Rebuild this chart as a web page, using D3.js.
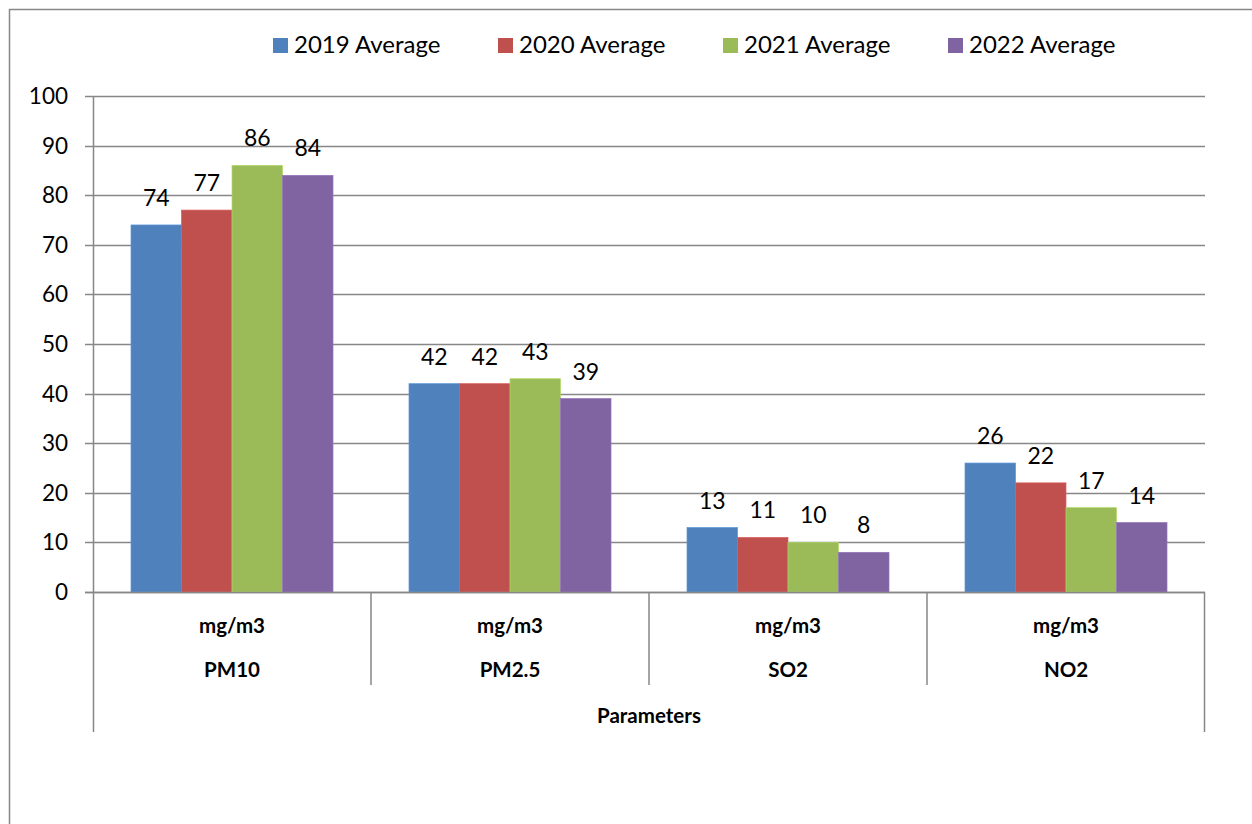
<!DOCTYPE html>
<html><head><meta charset="utf-8">
<script src="https://cdn.jsdelivr.net/npm/d3@7"></script>
<style>body{margin:0;background:#fff}svg{display:block}text{font-family:Lato,"Open Sans",sans-serif}</style>
</head><body>
<svg id="c" width="1252" height="824"></svg>
<script>
const categories = ["PM10", "PM2.5", "SO2", "NO2"];
const unitLabels = ["mg/m3", "mg/m3", "mg/m3", "mg/m3"];
const seriesNames = ["2019 Average", "2020 Average", "2021 Average", "2022 Average"];
const v2019 = [74, 42, 13, 26];
const v2020 = [77, 42, 11, 22];
const v2021 = [86, 43, 10, 17];
const v2022 = [84, 39, 8, 14];
const yTicks = [0, 10, 20, 30, 40, 50, 60, 70, 80, 90, 100];
const axisTitle = "Parameters";
const colors = ["#4F81BD", "#C0504D", "#9BBB59", "#8064A2"];
const seriesValues = [v2019, v2020, v2021, v2022];

const svg = d3.select("#c");
const L = 93, R = 1205, T = 96, B = 592;
const grid = "#878787";

// outer border
svg.append("path").attr("d", "M9.5,830V9.5H1260").attr("fill", "none").attr("stroke", grid).attr("stroke-width", 1.5);

const y = d3.scaleLinear().domain([0, 100]).range([B, T]);
const x0 = d3.scaleBand().domain(categories).range([L, R]).padding(0);
const x1 = d3.scaleBand().domain(seriesNames).range([38, x0.bandwidth() - 38]).padding(0);

// gridlines + ticks
svg.append("g").selectAll("line").data(yTicks).join("line")
  .attr("x1", L - 8).attr("x2", R).attr("y1", d => Math.round(y(d)) + 0.5).attr("y2", d => Math.round(y(d)) + 0.5)
  .attr("stroke", grid).attr("stroke-width", 1.5);
svg.append("g").selectAll("text").data(yTicks).join("text")
  .attr("x", 68).attr("y", d => y(d) + 8).attr("text-anchor", "end")
  .attr("font-size", 22.5).attr("fill", "#000").text(d => d);

// bars
const g = svg.append("g");
categories.forEach((c, ci) => {
  seriesNames.forEach((s, si) => {
    const v = seriesValues[si][ci];
    const bx = x0(c) + x1(s);
    g.append("rect").attr("x", bx).attr("y", y(v)).attr("width", x1.bandwidth()).attr("height", B - y(v))
      .attr("fill", colors[si]).attr("stroke", d3.color(colors[si]).brighter(0.4)).attr("stroke-width", 0.7);
    g.append("text").attr("x", bx + x1.bandwidth() / 2).attr("y", y(v) - 19)
      .attr("text-anchor", "middle").attr("font-size", 23).attr("fill", "#000").text(v);
  });
});

// axes lines
svg.append("line").attr("x1", L + 0.5).attr("x2", L + 0.5).attr("y1", T).attr("y2", 732).attr("stroke", grid).attr("stroke-width", 1.5);
svg.append("line").attr("x1", R - 0.5).attr("x2", R - 0.5).attr("y1", B).attr("y2", 732).attr("stroke", grid).attr("stroke-width", 1.5);
svg.append("line").attr("x1", L - 8).attr("x2", R).attr("y1", B + 0.5).attr("y2", B + 0.5).attr("stroke", grid).attr("stroke-width", 1.5);
categories.slice(1).forEach(c => {
  svg.append("line").attr("x1", x0(c)).attr("x2", x0(c)).attr("y1", B).attr("y2", 685).attr("stroke", grid).attr("stroke-width", 1.5);
});

// category labels
categories.forEach((c, i) => {
  const cx = x0(c) + x0.bandwidth() / 2;
  svg.append("text").attr("x", cx).attr("y", 633).attr("text-anchor", "middle").attr("font-size", 20.5).attr("font-weight", "bold").text(unitLabels[i]);
  svg.append("text").attr("x", cx).attr("y", 677).attr("text-anchor", "middle").attr("font-size", 20.5).attr("font-weight", "bold").text(c);
});
svg.append("text").attr("x", (L + R) / 2).attr("y", 723).attr("text-anchor", "middle").attr("font-size", 20.5).attr("font-weight", "bold").text(axisTitle);

// legend
const legX = [273, 498, 723, 948];
seriesNames.forEach((s, i) => {
  svg.append("rect").attr("x", legX[i]).attr("y", 38).attr("width", 15).attr("height", 15).attr("fill", colors[i]);
  svg.append("text").attr("x", legX[i] + 21).attr("y", 53).attr("font-size", 24).attr("fill", "#000").text(s);
});
</script>
</body></html>
